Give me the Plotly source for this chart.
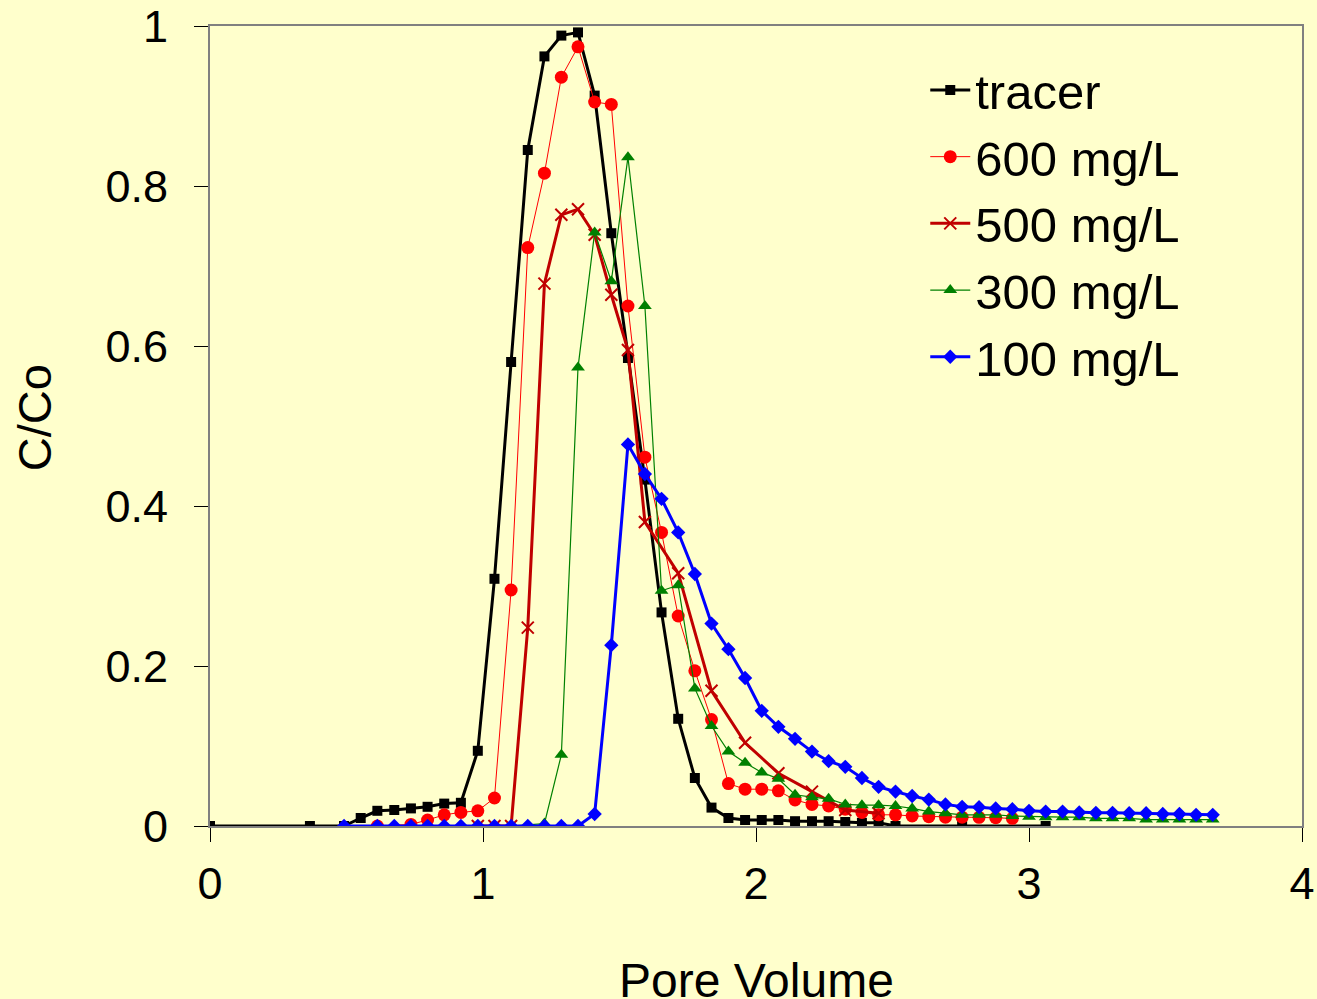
import plotly.graph_objects as go

# Pore volume values
x_tracer = [0, 0.366, 0.491, 0.552, 0.613, 0.675, 0.736, 0.797, 0.858, 0.919, 0.981, 1.042,
            1.103, 1.164, 1.225, 1.287, 1.348, 1.409, 1.470, 1.531, 1.593, 1.654, 1.715,
            1.776, 1.837, 1.899, 1.960, 2.021, 2.082, 2.143, 2.205, 2.266, 2.327, 2.388,
            2.449, 2.511, 2.755, 3.061]
y_tracer = [0, 0, 0, 0.010, 0.019, 0.020, 0.022, 0.024, 0.028, 0.029, 0.094, 0.309,
            0.580, 0.845, 0.962, 0.988, 0.992, 0.913, 0.741, 0.585, 0.433, 0.267, 0.134,
            0.060, 0.023, 0.010, 0.0075, 0.0075, 0.0075, 0.006, 0.006, 0.006, 0.005, 0.004,
            0.004, 0.0, 0.0, 0.0]

x_600 = [0.613, 0.736, 0.797, 0.858, 0.919, 0.981, 1.042, 1.103, 1.164, 1.225, 1.287,
         1.348, 1.409, 1.470, 1.531, 1.593, 1.654, 1.715, 1.776, 1.837, 1.899, 1.960,
         2.021, 2.082, 2.143, 2.205, 2.266, 2.327, 2.388, 2.449, 2.511, 2.572, 2.633,
         2.694, 2.755, 2.817, 2.878, 2.939]
y_600 = [0.0, 0.002, 0.0075, 0.014, 0.017, 0.019, 0.035, 0.295, 0.723, 0.816, 0.936,
         0.974, 0.905, 0.902, 0.650, 0.461, 0.367, 0.2625, 0.194, 0.133, 0.053, 0.046,
         0.046, 0.044, 0.0325, 0.027, 0.025, 0.021, 0.017, 0.014, 0.014, 0.0125, 0.0117,
         0.011, 0.011, 0.0108, 0.0104, 0.0096]

x_500 = [0.981, 1.042, 1.103, 1.164, 1.225, 1.287, 1.348, 1.409, 1.470, 1.531, 1.593,
         1.715, 1.837, 1.960, 2.082, 2.205, 2.327, 2.449]
y_500 = [0.0, 0.0, 0.0, 0.248, 0.678, 0.764, 0.771, 0.739, 0.664, 0.595, 0.380,
         0.316, 0.169, 0.104, 0.066, 0.043, 0.020, 0.016]

x_300 = [0.613, 0.736, 0.858, 0.981, 1.103, 1.225, 1.287, 1.348, 1.409, 1.470, 1.531,
         1.593, 1.654, 1.715, 1.776, 1.837, 1.899, 1.960, 2.021, 2.082, 2.143, 2.205,
         2.266, 2.327, 2.388, 2.449, 2.511, 2.572, 2.633, 2.694, 2.755, 2.817, 2.878,
         2.939, 3.000, 3.061, 3.123, 3.184, 3.245, 3.306, 3.367, 3.429, 3.490, 3.551,
         3.612, 3.673]
y_300 = [0.0, 0.0, 0.0, 0.0, 0.0, 0.003, 0.089, 0.573, 0.742, 0.681, 0.836,
         0.650, 0.294, 0.301, 0.172, 0.125, 0.093, 0.079, 0.067, 0.059, 0.039, 0.036,
         0.034, 0.027, 0.026, 0.026, 0.025, 0.022, 0.018, 0.016, 0.014, 0.014, 0.014,
         0.0125, 0.0117, 0.011, 0.011, 0.011, 0.0096, 0.0096, 0.0096, 0.008, 0.008, 0.008,
         0.008, 0.008]

x_100 = [0.491, 0.613, 0.675, 0.736, 0.797, 0.858, 0.919, 0.981, 1.042, 1.103, 1.164,
         1.225, 1.287, 1.348, 1.409, 1.470, 1.531, 1.593, 1.654, 1.715, 1.776, 1.837,
         1.899, 1.960, 2.021, 2.082, 2.143, 2.205, 2.266, 2.327, 2.388, 2.449, 2.511,
         2.572, 2.633, 2.694, 2.755, 2.817, 2.878, 2.939, 3.000, 3.061, 3.123, 3.184,
         3.245, 3.306, 3.367, 3.429, 3.490, 3.551, 3.612, 3.673]
y_100 = [0, 0, 0, 0, 0, 0, 0, 0, 0, 0, 0,
         0, 0, 0, 0.015, 0.226, 0.477, 0.440, 0.409, 0.367, 0.315, 0.253,
         0.221, 0.185, 0.144, 0.124, 0.109, 0.093, 0.081, 0.074, 0.060, 0.049, 0.043,
         0.0375, 0.033, 0.027, 0.024, 0.0235, 0.022, 0.021, 0.019, 0.018, 0.018, 0.017,
         0.0165, 0.0165, 0.016, 0.016, 0.015, 0.015, 0.014, 0.014]

series_names = ["tracer", "600 mg/L", "500 mg/L", "300 mg/L", "100 mg/L"]
y_ticks = [0, 0.2, 0.4, 0.6, 0.8, 1]
x_ticks = [0, 1, 2, 3, 4]

FONT = "Liberation Sans, Arial, sans-serif"
BG = "#FFFFCC"

fig = go.Figure()
fig.add_trace(go.Scatter(x=x_tracer, y=y_tracer, name=series_names[0], mode="lines+markers",
                         line=dict(color="black", width=3),
                         marker=dict(symbol="square", size=10, color="black")))
fig.add_trace(go.Scatter(x=x_600, y=y_600, name=series_names[1], mode="lines+markers",
                         line=dict(color="#FF0000", width=1),
                         marker=dict(symbol="circle", size=13, color="#FF0000")))
fig.add_trace(go.Scatter(x=x_500, y=y_500, name=series_names[2], mode="lines+markers",
                         line=dict(color="#C00000", width=3),
                         marker=dict(symbol="x-thin-open", size=12, color="#C00000",
                                     line=dict(color="#C00000", width=2))))
fig.add_trace(go.Scatter(x=x_300, y=y_300, name=series_names[3], mode="lines+markers",
                         line=dict(color="#008000", width=1.2),
                         marker=dict(symbol="triangle-up", size=12, color="#008000")))
fig.add_trace(go.Scatter(x=x_100, y=y_100, name=series_names[4], mode="lines+markers",
                         line=dict(color="#0000FF", width=3),
                         marker=dict(symbol="diamond", size=11, color="#0000FF")))

fig.update_layout(
    width=1317, height=999,
    margin=dict(l=210, r=15, t=26, b=173),
    paper_bgcolor=BG, plot_bgcolor=BG,
    font=dict(family=FONT, color="black", size=45),
    showlegend=True,
    legend=dict(x=0.655, y=0.968, xanchor="left", yanchor="top",
                bgcolor="rgba(0,0,0,0)", borderwidth=0,
                font=dict(family=FONT, size=49, color="black"),
                itemwidth=40, tracegroupgap=0),
    xaxis=dict(range=[0, 4], tickvals=x_ticks, ticks="outside", ticklen=14,
               tickwidth=1, tickcolor="black", showgrid=False, zeroline=False,
               showline=True, linecolor="#808080", linewidth=2, mirror=True,
               automargin=False,
               tickfont=dict(family=FONT, size=45), ticklabelstandoff=3),
    yaxis=dict(range=[0, 1], tickvals=y_ticks, ticks="outside", ticklen=14,
               tickwidth=1, tickcolor="black", showgrid=False, zeroline=False,
               showline=True, linecolor="#808080", linewidth=2, mirror=True,
               automargin=False,
               tickfont=dict(family=FONT, size=45), ticklabelstandoff=17),
    annotations=[
        dict(text="Pore Volume", xref="paper", yref="paper", x=0.5, y=-0.158,
             xanchor="center", yanchor="top", showarrow=False,
             font=dict(family=FONT, size=48, color="black")),
        dict(text="C/Co", xref="paper", yref="paper", x=-0.161, y=0.51,
             xanchor="center", yanchor="middle", showarrow=False, textangle=-90,
             font=dict(family=FONT, size=47, color="black")),
    ],
)

fig.write_html("out.html")
